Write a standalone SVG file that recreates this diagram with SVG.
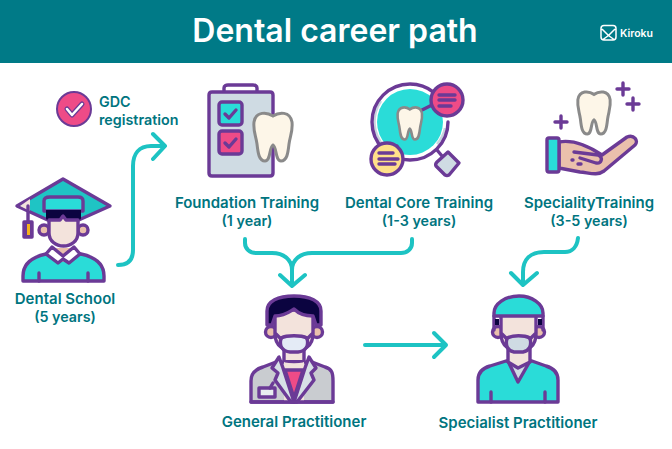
<svg xmlns="http://www.w3.org/2000/svg" width="672" height="449" viewBox="0 0 672 449">
<style>
text{font-family:"Inter","Liberation Sans",sans-serif;font-weight:600;fill:#00757f}
.lbl{font-size:15px;text-anchor:middle}
.yr{font-size:14.300px;text-anchor:middle}
.p{stroke:#6b3a96;stroke-width:3.400;stroke-linecap:round;stroke-linejoin:round}
.n{fill:none}
.c{fill:none;stroke:#1dc3c3;stroke-width:4;stroke-linecap:round;stroke-linejoin:round}
</style>
<defs>
<path id="tooth" d="M20 5C14 1 3 0 1 11C0 20 3 25 4 33C5 42 6 50 12 50C18 50 16 36 20 34C24 36 22 50 28 50C34 50 35 42 36 33C37 25 40 20 39 11C37 0 26 1 20 5Z"/>
</defs>
<rect width="672" height="449" fill="#fff"/>
<g id="header">
<rect width="672" height="63" fill="#007a87"/>
<text x="335" y="42" text-anchor="middle" style="font-size:32px;fill:#fff">Dental career path</text>
<path d="M604 25.500H613Q616 25.500 616 28.500V37Q616 40 613 40H604Q601 40 601 37V28.500Q601 25.500 604 25.500ZM602 29L608.500 35.500L615 29M603 39.500L608.500 35.500L614 39.500" fill="none" stroke="#fff" stroke-width="1.500" stroke-linejoin="round"/>
<text x="620" y="37" style="font-size:10.500px;fill:#fff">Kiroku</text>
</g>
<g id="connectors">
<path class="c" d="M118 265C128 265 133 260 133 250V166C133 154 139 146 151 146H164M153 134L165 146L153 159"/>
<path class="c" d="M245 239V243C245 249 250 253 256 253H272C284 253 292 260 292 270M412 239V243C412 249 407 253 401 253H312C300 253 292 260 292 270V286M280 275L292 286L305 275"/>
<path class="c" d="M578 238C577 247 572 252 565 252H544C530 252 523 260 523 272V284M511 273L523 285L537 273"/>
<path class="c" d="M365 345H445M434 333L446 345L434 357"/>
</g>
<g id="gdc">
<circle cx="74" cy="109" r="17" fill="#ee4b87" class="p" style="stroke-width:2"/>
<path d="M67 109L72 115L82 104" fill="none" stroke="#6b3a96" stroke-width="5" stroke-linecap="round" stroke-linejoin="round"/>
<path d="M67 109L72 115L82 104" fill="none" stroke="#fff" stroke-width="2.500" stroke-linecap="round" stroke-linejoin="round"/>
<text x="99" y="107" style="font-size:14.300px">GDC</text>
<text x="99" y="125" style="font-size:14.300px">registration</text>
</g>
<g id="dental-school">
<path class="p" fill="#2adcd8" d="M23 281V276C23 264 32 257 46 254L63 251L81 254C95 257 104 264 104 276V281Z"/>
<path class="p n" d="M39 281V273M88 281V273"/>
<path d="M54 248H73V258L63 262L54 258Z" fill="#eac0ac"/>
<path class="p" fill="#fff" d="M52 247L46 254L58 263L63 259L69 263L80 254L74 247L63 256Z"/>
<path class="p" fill="#1fc4c4" d="M63 179L110 206L63 227L17 206Z"/>
<path d="M30 199L20 206L30 211Z" fill="#f3e3dc"/>
<path class="p" fill="#2adcd8" d="M44 211V201C44 198 47 197 50 197H78C81 197 83 198 83 201V211Z"/>
<path d="M46 210H81V218C81 221 75 221 71 221H66L63 217L60 221H55C50 221 46 221 46 218Z" fill="#0b0440"/>
<circle cx="44" cy="230" r="5" class="p" fill="#eac0ac"/>
<circle cx="83" cy="230" r="5" class="p" fill="#eac0ac"/>
<path class="p" fill="#f3e3dc" d="M49 220V233C49 241 56 246 63.500 246C71 246 78 241 78 233V220H66L63 216L60 220Z"/>
<path class="p n" d="M28 206V221"/>
<rect x="24" y="222" width="8" height="15" class="p" fill="#6b3a96"/>
<rect x="27" y="224" width="3" height="11" fill="#f6b21b"/>
<text class="lbl" x="65" y="304">Dental School</text>
<text class="yr" x="65" y="322">(5 years)</text>
</g>
<g id="foundation-training">
<path class="p" fill="#fff" d="M224 92V88C224 86 226 85 228 85H253C255 85 257 86 257 88V92"/>
<path class="p" fill="#cfdbe3" d="M273 110V95C273 93 272 92 270 92H212C210 92 209 93 209 95V173C209 175 210 176 212 176H270C272 176 273 175 273 173V160L273 110Z"/>
<rect x="219" y="102" width="23" height="23" rx="3" class="p" fill="#2adcd8"/>
<path class="p n" d="M225 114L229 118L236 110"/>
<rect x="219" y="131" width="23" height="23" rx="3" class="p" fill="#ee4b87"/>
<path class="p n" d="M225 143L229 147L236 139"/>
<use href="#tooth" x="253" y="111" fill="#fdf6e8" stroke="#8a8a8a" stroke-width="3"/>
<text class="lbl" x="247" y="208">Foundation Training</text>
<text class="yr" x="247" y="226">(1 year)</text>
</g>
<g id="dental-core-training">
<path class="p" fill="#cfdbe3" d="M448 152L459 163L449 175Q447 176 445 175L436 166Q435 164 437 162Z"/>
<path class="p n" d="M437 150L442 156"/>
<circle cx="410" cy="122" r="33" fill="#2adcd8"/>
<path d="M381 101A36 36 0 0 0 384 146M437 144A35 35 0 0 0 445 128" fill="none" stroke="#c8d4de" stroke-width="2.500"/>
<circle cx="410" cy="122" r="38" class="p n" stroke-dasharray="230 9"/>
<path d="M422 110L432 105M397 146L391 152" class="p n"/>
<use href="#tooth" transform="translate(397 106) scale(.64 .67)" fill="#fdf6e8" stroke="#8a8a8a" stroke-width="4"/>
<circle cx="447" cy="100" r="16" class="p" fill="#ee4b87"/>
<path class="p n" d="M439 95H455M439 100H455M439 106H451"/>
<circle cx="387" cy="159" r="16" class="p" fill="#ffe08a"/>
<path class="p n" d="M379 153H393M379 159H398M379 164H395"/>
<text class="lbl" x="419" y="208">Dental Core Training</text>
<text class="yr" x="419" y="226">(1-3 years)</text>
</g>
<g id="speciality-training">
<use href="#tooth" transform="translate(577 90) scale(.85 .88)" fill="#fdf6e8" stroke="#8a8a8a" stroke-width="3.500"/>
<path class="p n" d="M623 83V95M617 89H629M633 98V110M627 104H639M561 116V128M555 122H567"/>
<path class="p" fill="#eac0ac" d="M559 142C575 139 590 147 602 155L627 137C634 134 639 141 635 145L604 171C597 176 590 173 580 172L559 168Z"/>
<path class="p n" d="M574 152L598 155C604 158 601 164 596 163L580 158"/>
<path class="p n" d="M572 160H573M578 164H581"/>
<rect x="547" y="138" width="12" height="34" rx="2" class="p" fill="#2adcd8"/>
<text class="lbl" x="589" y="208">SpecialityTraining</text>
<text class="yr" x="589" y="226">(3-5 years)</text>
</g>
<g id="general-practitioner">
<path class="p" fill="#c9ccd0" d="M251 402V381C251 373 256 369 263 367L276 362H312L325 367C332 369 333 373 333 381V402Z"/>
<path d="M284 355H304V402H284Z" fill="#f3e3dc"/>
<path class="p" fill="#ee4b87" d="M285 370H303L294 398Z"/>
<path class="p" fill="#d7e1e6" d="M279 357L272 368L278 373L275 380L291 402H294L283 368Z"/>
<path class="p" fill="#d7e1e6" d="M309 357L316 368L311 373L314 380L297 402H294L305 368Z"/>
<rect x="259" y="388" width="16" height="9" class="p" fill="#e8edf0"/>
<path class="p n" d="M270 388L273 383M251 402H333"/>
<path class="p" fill="#f3e3dc" d="M284 345V360C284 362 304 362 304 360V345Z"/>
<circle cx="271" cy="332" r="5.500" class="p" fill="#eac0ac"/>
<circle cx="317" cy="332" r="5.500" class="p" fill="#eac0ac"/>
<path class="p" fill="#f3e3dc" d="M275 310V334C275 346 284 351 294 351C304 351 313 346 313 334V310Z"/>
<path class="p" fill="#0b0440" d="M267 325V311C267 301 278 296 294 296C310 296 321 301 321 311V325H316L313 316C305 316 299 314 294 309C289 312 285 316 275 316L272 325Z"/>
<path class="p" fill="#e4ebf6" d="M281 338C287 335 301 335 307 338C309 346 306 351 298 352H290C282 351 279 346 281 338Z"/>
<path class="p n" d="M281 339L276 334M307 339L312 334"/>
<text class="lbl" x="294" y="427">General Practitioner</text>
</g>
<g id="specialist-practitioner">
<path class="p" fill="#2adcd8" d="M478 402V380C478 372 483 368 490 366L506 361H532L546 366C553 368 558 372 558 380V402Z"/>
<path class="p" fill="#cfdbe3" d="M508 361L518 382L530 361Z"/>
<path class="p n" d="M491 402V392M545 402V392"/>
<path class="p" fill="#f3e3dc" d="M508 345V362L518 368L530 362V345Z"/>
<circle cx="498" cy="332" r="5.500" class="p" fill="#eac0ac"/>
<circle cx="539" cy="332" r="5.500" class="p" fill="#eac0ac"/>
<path class="p" fill="#f3e3dc" d="M501 315V334C501 346 510 351 519 351C528 351 536 346 536 334V315Z"/>
<path class="p n" d="M494 316V330M543 316V330"/>
<path d="M495 319H499V325H495ZM538 319H542V325H538Z" fill="#0b0440"/>
<path class="p" fill="#2adcd8" d="M494 316V313C494 304 505 296 519 296C532 296 543 304 543 313V316Z"/>
<path class="p" fill="#cfdbe3" d="M507 338C513 335 524 335 530 338C532 346 529 351 523 352H514C508 351 505 346 507 338Z"/>
<path class="p n" d="M507 339L502 334M530 339L535 334"/>
<text class="lbl" x="518" y="428">Specialist Practitioner</text>
</g>
</svg>
